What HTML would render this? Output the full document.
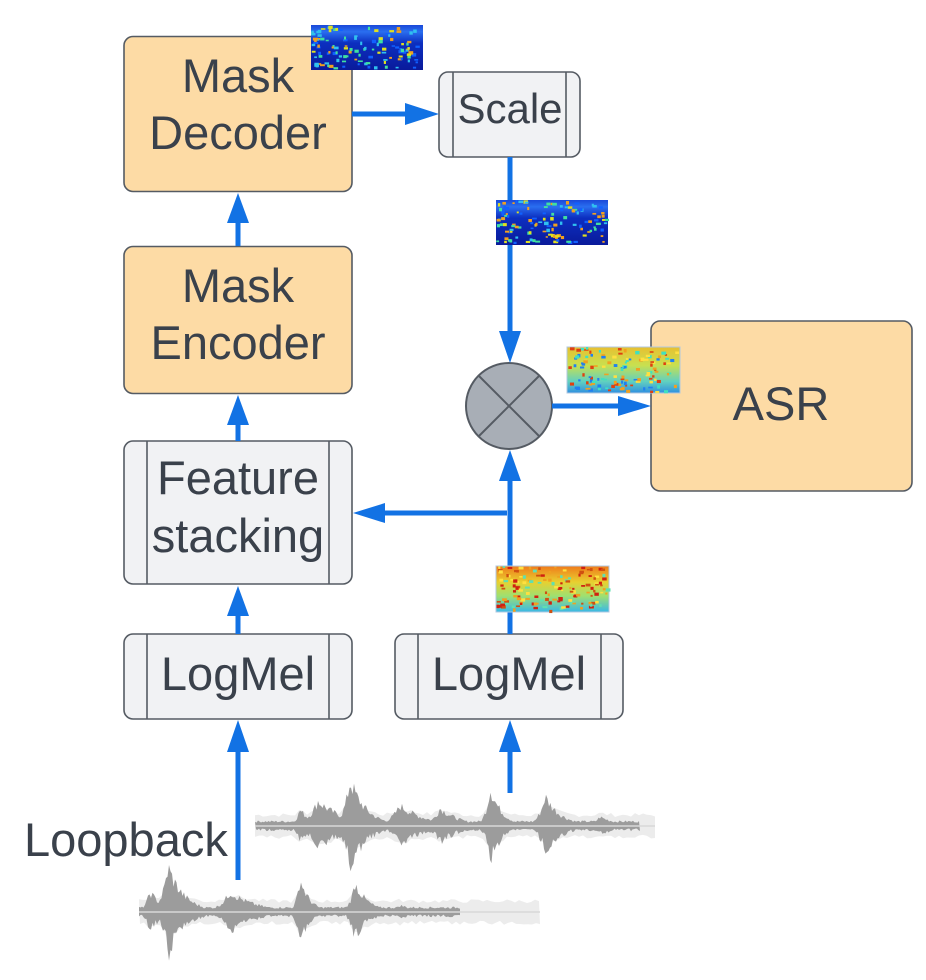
<!DOCTYPE html>
<html><head><meta charset="utf-8"><style>
html,body{margin:0;padding:0;background:#fff;}
svg{display:block;}
text{font-family:"Liberation Sans",sans-serif;fill:#3a414b;}
</style></head><body>
<svg id="s" width="926" height="980" viewBox="0 0 926 980" xmlns="http://www.w3.org/2000/svg">
<defs>
<linearGradient id="blue" x1="0" y1="0" x2="0" y2="1">
<stop offset="0" stop-color="#1a48d8"/><stop offset="0.15" stop-color="#2a6ef0"/><stop offset="0.4" stop-color="#0c2fc0"/><stop offset="1" stop-color="#0a1a9a"/>
</linearGradient>
<linearGradient id="jet" x1="0" y1="0" x2="0" y2="1">
<stop offset="0" stop-color="#f07a1a"/><stop offset="0.35" stop-color="#e8d030"/><stop offset="0.65" stop-color="#9fe070"/><stop offset="1" stop-color="#38b8e8"/>
</linearGradient>
<linearGradient id="jet2" x1="0" y1="0" x2="0" y2="1">
<stop offset="0" stop-color="#e8c030"/><stop offset="0.4" stop-color="#c8e050"/><stop offset="0.75" stop-color="#60d0c0"/><stop offset="1" stop-color="#3090e0"/>
</linearGradient>
</defs>

<g id="wave"></g>

<g stroke="#555b63" stroke-width="1.6">
<rect x="124" y="36.5" width="228" height="155" rx="9" fill="#fddba5"/>
<rect x="124" y="246.5" width="228" height="147" rx="9" fill="#fddba5"/>
<rect x="124" y="441" width="228" height="143" rx="9" fill="#f1f2f4"/>
<line x1="147" y1="441" x2="147" y2="584"/><line x1="329" y1="441" x2="329" y2="584"/>
<rect x="124" y="634" width="228" height="85" rx="9" fill="#f1f2f4"/>
<line x1="147" y1="634" x2="147" y2="719"/><line x1="329" y1="634" x2="329" y2="719"/>
<rect x="395" y="634" width="228" height="85" rx="9" fill="#f1f2f4"/>
<line x1="418" y1="634" x2="418" y2="719"/><line x1="601" y1="634" x2="601" y2="719"/>
<rect x="439" y="72" width="141" height="85" rx="9" fill="#f1f2f4"/>
<line x1="453" y1="72" x2="453" y2="157"/><line x1="566" y1="72" x2="566" y2="157"/>
<rect x="651" y="321" width="261" height="170" rx="9" fill="#fddba5"/>
<circle cx="509" cy="406" r="43" fill="#a8aeb6" stroke-width="2"/>
<line x1="479" y1="376" x2="539" y2="436" stroke-width="2"/><line x1="539" y1="376" x2="479" y2="436" stroke-width="2"/>
</g>

<g font-size="47" text-anchor="middle">
<text x="238" y="92">Mask</text><text x="238" y="149">Decoder</text>
<text x="238" y="302">Mask</text><text x="238" y="359">Encoder</text>
<text x="238" y="494">Feature</text><text x="238" y="552">stacking</text>
<text x="238" y="690">LogMel</text>
<text x="509" y="690">LogMel</text>
<text x="510" y="123" font-size="42">Scale</text>
<text x="781" y="420">ASR</text>
</g>
<text x="24" y="856" font-size="47">Loopback</text>

<g stroke="#1272e4" stroke-width="5" fill="none">
<line x1="352" y1="114" x2="410" y2="114"/>
<line x1="510" y1="157" x2="510" y2="335"/>
<line x1="552" y1="406" x2="625" y2="406"/>
<line x1="238" y1="246" x2="238" y2="218"/>
<line x1="238" y1="441" x2="238" y2="420"/>
<line x1="238" y1="634" x2="238" y2="612"/>
<line x1="510" y1="634" x2="510" y2="480"/>
<path d="M507 513 H382"/>
<line x1="238" y1="880" x2="238" y2="748"/>
<line x1="510" y1="793" x2="510" y2="748"/>
</g>
<g fill="#1272e4">
<polygon points="439,114 405,103 405,125"/>
<polygon points="510,363 499,331 521,331"/>
<polygon points="651,406 618,396 618,416"/>
<polygon points="238,193 227,223 249,223"/>
<polygon points="238,395 227,425 249,425"/>
<polygon points="238,586 227,616 249,616"/>
<polygon points="510,450 499,481 521,481"/>
<polygon points="353,513 385,503 385,523"/>
<polygon points="238,720 227,752 249,752"/>
<polygon points="510,720 499,752 521,752"/>
</g>

<rect x="311" y="25" width="112" height="45" fill="url(#blue)"/>
<rect x="496" y="200" width="112" height="45" fill="url(#blue)"/>
<rect x="567" y="347" width="113" height="46" fill="url(#jet2)" stroke="#b0c8e0" stroke-width="1"/>
<rect x="496" y="566" width="113" height="46" fill="url(#jet)" stroke="#b0c8e0" stroke-width="1"/>
<g id="specdots"></g>
</svg>
<script>
(function(){
var ns="http://www.w3.org/2000/svg";
var seed=7;function r(){seed=(seed*9301+49297)%233280;return seed/233280;}
function env(peaks,x){var v=0.1;for(var i=0;i<peaks.length;i++){var p=peaks[i];var d=x-p[0];var w=d<0?p[2]*0.5:p[2]*1.3;v=Math.max(v,p[1]*Math.exp(-Math.abs(d)/w*2.0));}return v;}
function wave(x0,x1,cy,up,dn,peaks,fade){
 var g=document.getElementById("wave");
 var bgp=[];for(var x=x0;x<=x1;x+=4){bgp.push(x+","+(cy-7-4*r()-env(peaks,x)*up*0.35));}
 for(var x=x1;x>=x0;x-=4){bgp.push(x+","+(cy+7+4*r()+env(peaks,x)*dn*0.35));}
 var bg=document.createElementNS(ns,"polygon");bg.setAttribute("points",bgp.join(" "));bg.setAttribute("fill","#ececec");g.appendChild(bg);
 var top=[],bot=[];
 for(var x=x0;x<=fade;x+=1.5){var e=env(peaks,x)*(0.6+0.4*r());top.push(x+","+(cy-e*up));}
 for(var x=fade;x>=x0;x-=1.5){var e=env(peaks,x)*(0.5+0.5*r());bot.push(x+","+(cy+e*dn));}
 var p=document.createElementNS(ns,"polygon");p.setAttribute("points",top.concat(bot).join(" "));p.setAttribute("fill","#9c9c9c");g.appendChild(p);
 var l=document.createElementNS(ns,"line");l.setAttribute("x1",x0);l.setAttribute("x2",x1);l.setAttribute("y1",cy);l.setAttribute("y2",cy);l.setAttribute("stroke","#d8d8d8");l.setAttribute("stroke-width","1.5");g.appendChild(l);
}
wave(255,655,826,56,52,[[300,0.35,20],[318,0.55,40],[350,1.0,25],[400,0.45,40],[440,0.4,30],[490,0.85,18],[545,0.65,25],[600,0.2,30]],640);
wave(139,540,912,55,52,[[150,0.45,20],[168,1.0,25],[230,0.45,40],[300,0.75,15],[355,0.65,20],[400,0.15,30]],460);
var sd=document.getElementById("specdots");
function speck(x,y,w,h,cols,n){for(var i=0;i<n;i++){var c=document.createElementNS(ns,"rect");c.setAttribute("x",x+r()*(w-3));c.setAttribute("y",y+r()*(h-2));c.setAttribute("width",2+r()*3);c.setAttribute("height",1.5+r()*2);c.setAttribute("fill",cols[Math.floor(r()*cols.length)]);sd.appendChild(c);}}
speck(311,25,112,45,["#30c0f0","#e0e020","#1060ff","#f0a020","#40e0a0"],120);
speck(496,200,112,45,["#30c0f0","#e0e020","#1060ff","#f0a020","#40e0a0"],120);
speck(567,347,113,46,["#e04010","#f0a020","#40e0c0","#ffe040","#2080f0"],120);
speck(496,566,113,46,["#d02010","#f0a020","#60e0b0","#ffe040","#d05010"],140);
})();
</script>
</body></html>
